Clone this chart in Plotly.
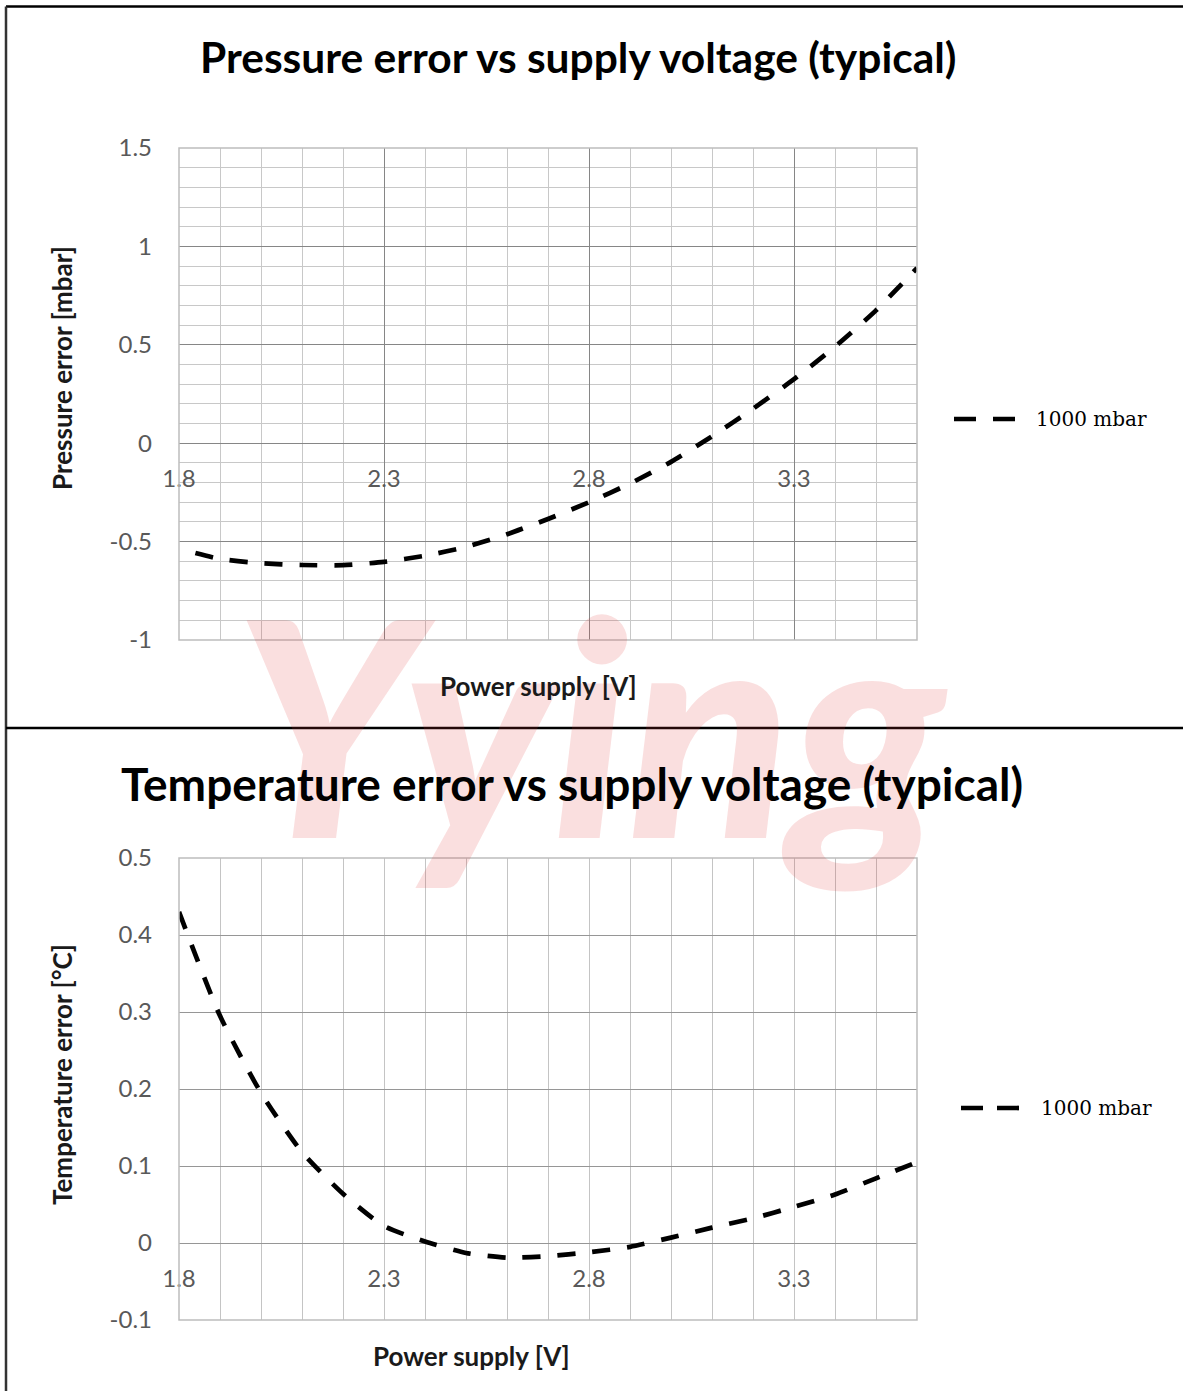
import plotly.graph_objects as go

# ---------------- data ----------------
voltage_p = [1.84, 1.9, 2.0, 2.1, 2.2, 2.3, 2.4, 2.5, 2.6, 2.7, 2.8, 2.9, 3.0, 3.1, 3.2, 3.3, 3.4, 3.5, 3.6]
pressure_err = [-0.558, -0.588, -0.610, -0.619, -0.620, -0.603, -0.572, -0.527, -0.463, -0.385, -0.300,
                -0.205, -0.095, 0.035, 0.175, 0.325, 0.490, 0.675, 0.890]

voltage_t = [1.8, 1.9, 2.0, 2.1, 2.2, 2.3, 2.4, 2.5, 2.6, 2.7, 2.8, 2.9, 3.0, 3.1, 3.2, 3.3, 3.4, 3.5, 3.6]
temp_err = [0.430, 0.295, 0.195, 0.118, 0.064, 0.022, 0.002, -0.013, -0.019, -0.017, -0.012,
            -0.005, 0.007, 0.020, 0.032, 0.047, 0.063, 0.084, 0.105]

x_tick_vals = [1.8, 2.3, 2.8, 3.3]
x_tick_text = ["1.8", "2.3", "2.8", "3.3"]
p_tick_vals = [-1, -0.5, 0, 0.5, 1, 1.5]
p_tick_text = ["-1", "-0.5", "0", "0.5", "1", "1.5"]
t_tick_vals = [-0.1, 0, 0.1, 0.2, 0.3, 0.4, 0.5]
t_tick_text = ["-0.1", "0", "0.1", "0.2", "0.3", "0.4", "0.5"]

series_name = "1000 mbar"
title_p = "Pressure error vs supply voltage (typical)"
title_t = "Temperature error vs supply voltage (typical)"
ytitle_p = "Pressure error [mbar]"
ytitle_t = "Temperature error [°C]"
xtitle = "Power supply [V]"

# ---------------- layout helpers ----------------
W, H = 1183, 1391
def px(x):
    return x / W
def py(y):
    return 1 - y / H

FONT = "Lato"
TICK_FONT = dict(family=FONT, size=24, color="#595959")
LINE = dict(color="black", width=4.7, dash="18px,17px", shape="spline", smoothing=0.6)

xdom = [px(179), px(917)]
ydom_p = [py(640), py(148)]
ydom_t = [py(1320), py(858)]
p_range = [-1, 1.5]
t_range = [-0.1, 0.5]

def zero_pos(dom, rng):
    return dom[0] + (0 - rng[0]) / (rng[1] - rng[0]) * (dom[1] - dom[0])

fig = go.Figure()
fig.add_trace(go.Scatter(x=voltage_p, y=pressure_err, mode="lines", name=series_name,
                         line=LINE, xaxis="x", yaxis="y", showlegend=False))
fig.add_trace(go.Scatter(x=voltage_t, y=temp_err, mode="lines", name=series_name,
                         line=LINE, xaxis="x2", yaxis="y2", showlegend=False))

common_x = dict(range=[1.8, 3.6], tickmode="array", tickvals=x_tick_vals, ticktext=x_tick_text,
                tickfont=TICK_FONT, showline=False, zeroline=False, ticks="", automargin=False,
                anchor="free", ticklabelstandoff=19, domain=xdom)
common_y = dict(tickfont=TICK_FONT, zeroline=False, ticks="", ticklabelstandoff=26,
                automargin=False, tickmode="array")

fig.update_layout(
    template="none",
    width=W, height=H,
    margin=dict(l=0, r=0, t=0, b=0, pad=0, autoexpand=False),
    paper_bgcolor="white", plot_bgcolor="white",
    showlegend=False,
    xaxis=dict(**common_x, position=zero_pos(ydom_p, p_range),
               showgrid=True, gridcolor="#868686", gridwidth=1,
               minor=dict(tick0=1.8, dtick=0.1, showgrid=True, gridcolor="#c8c8c8", gridwidth=1)),
    yaxis=dict(**common_y, domain=ydom_p, range=p_range, tickvals=p_tick_vals, ticktext=p_tick_text,
               showgrid=True, gridcolor="#868686", gridwidth=1, anchor="x",
               minor=dict(tick0=-1, dtick=0.1, showgrid=True, gridcolor="#c8c8c8", gridwidth=1)),
    xaxis2=dict(**common_x, position=zero_pos(ydom_t, t_range),
                showgrid=True, gridcolor="#c4c4c4", gridwidth=1,
                minor=dict(tick0=1.8, dtick=0.1, showgrid=True, gridcolor="#c4c4c4", gridwidth=1)),
    yaxis2=dict(**common_y, domain=ydom_t, range=t_range, tickvals=t_tick_vals, ticktext=t_tick_text,
                showgrid=True, gridcolor="#969696", gridwidth=1, anchor="x2"),
)

shapes = []
# plot-area borders
for xr, yr in (("x domain", "y domain"), ("x2 domain", "y2 domain")):
    shapes.append(dict(type="rect", xref=xr, yref=yr, x0=0, x1=1, y0=0, y1=1,
                       line=dict(color="#bdbdbd", width=1.5), layer="above"))
# outer frame
shapes.append(dict(type="line", xref="paper", yref="paper", x0=px(6), x1=1, y0=py(6.5), y1=py(6.5),
                   line=dict(color="black", width=2.5)))
shapes.append(dict(type="line", xref="paper", yref="paper", x0=px(6), x1=px(6), y0=0, y1=py(6.5),
                   line=dict(color="#333333", width=2.5)))
shapes.append(dict(type="line", xref="paper", yref="paper", x0=px(6), x1=1, y0=py(728), y1=py(728),
                   line=dict(color="black", width=2.5)))
# legend samples
shapes.append(dict(type="line", xref="paper", yref="paper", x0=px(954), x1=px(1015), y0=py(419), y1=py(419),
                   line=dict(color="black", width=4.7, dash="22px,17px")))
shapes.append(dict(type="line", xref="paper", yref="paper", x0=px(961), x1=px(1019), y0=py(1108), y1=py(1108),
                   line=dict(color="black", width=4.7, dash="22px,14px")))

annotations = []
def ann(text, x, y, size, bold=False, angle=0, xanchor="center", family=FONT, color="#000000"):
    annotations.append(dict(text=text, xref="paper", yref="paper", x=px(x), y=py(y),
                            xanchor=xanchor, yanchor="middle", showarrow=False, textangle=angle,
                            font=dict(family=family, size=size, color=color,
                                      weight="bold" if bold else "normal")))

# watermark
annotations.append(dict(text="Yying", xref="paper", yref="paper", x=px(592), y=py(722),
                        xanchor="center", yanchor="middle", showarrow=False,
                        font=dict(family=FONT, size=300, color="rgba(225,55,55,0.16)",
                                  weight=900, style="italic")))

ann(title_p, 578, 57, 42.5, bold=True)
ann(title_t, 572, 783, 46, bold=True)
ann(ytitle_p, 62, 368, 26, bold=True, angle=-90, color="#1a1a1a")
ann(ytitle_t, 62, 1075, 26, bold=True, angle=-90, color="#1a1a1a")
ann(xtitle, 538, 686, 26, bold=True, color="#1a1a1a")
ann(xtitle, 471, 1356, 26, bold=True, color="#1a1a1a")
ann(series_name, 1034, 419, 20, bold=False, xanchor="left", family="DejaVu Serif", color="#000000")
ann(series_name, 1039, 1108, 20, bold=False, xanchor="left", family="DejaVu Serif", color="#000000")

fig.update_layout(shapes=shapes, annotations=annotations)
fig.write_html("out.html", config={"displayModeBar": False},
               post_script="document.body.style.margin='0';document.body.style.overflow='hidden';")
